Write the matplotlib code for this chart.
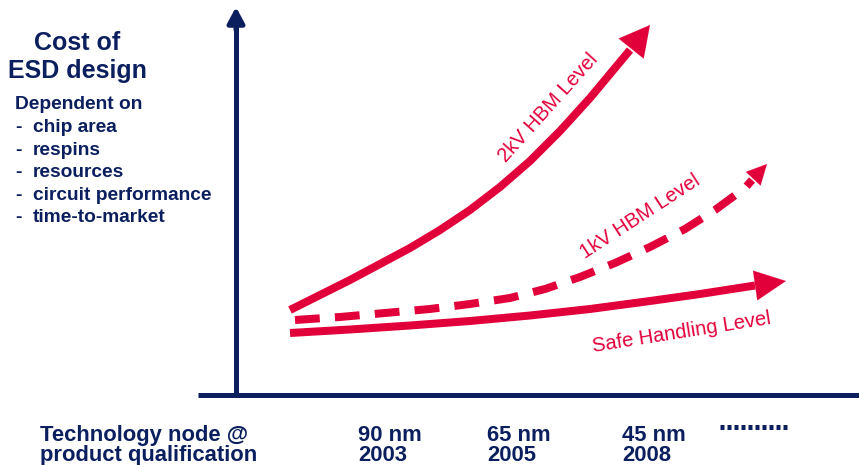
import matplotlib
matplotlib.use("Agg")
import matplotlib.pyplot as plt

# Colours
NAVY = "#0b1f5e"
RED = "#e2003a"

# Curves (slide pixel coordinates, y grows downwards)
x_2kv = [290, 320, 350, 380, 410, 440, 470, 500, 530, 560, 590, 610, 630]
y_2kv = [310, 295, 280, 264, 248, 230, 210, 187, 161, 131, 98, 74, 50]
tip_2kv = (650, 25)

x_1kv = [295, 340, 385, 430, 470, 510, 545, 580, 615, 650, 685, 715, 745, 752]
y_1kv = [320, 317, 313, 309, 304, 298, 289, 277, 263, 247, 229, 210, 188, 180]
tip_1kv = (767, 164)

x_safe = [290, 350, 410, 470, 530, 590, 650, 700, 755]
y_safe = [333, 329.5, 325.5, 321, 315.5, 309, 301, 294, 285.5]
tip_safe = (786, 281)

# Curve labels: text, centre, angle
curve_labels = ["2kV HBM Level", "1kV HBM Level", "Safe Handling Level"]
label_pos = [(548, 108), (640, 217), (682, 332)]
label_rot = [48, 33, 9]

# Left side text
title_lines = ["Cost of", "ESD design"]
dep_items = ["chip area", "respins", "resources", "circuit performance", "time-to-market"]

# Bottom axis labels
node_labels = ["90 nm", "65 nm", "45 nm"]
year_labels = ["2003", "2005", "2008"]
node_x = [358, 487, 622]

fig = plt.figure(figsize=(8.59, 4.65), dpi=100)
ax = fig.add_axes([0, 0, 1, 1])
ax.set_xlim(0, 859)
ax.set_ylim(465, 0)
ax.axis("off")

px = 72 / 100  # pixels -> points

# axes
ax.plot([198, 866], [395, 395], color=NAVY, lw=5 * px, solid_capstyle="butt")
ax.annotate("", xy=(866, 395), xytext=(850, 395),
            arrowprops=dict(arrowstyle=f"-|>,head_length={13*px},head_width={7*px}",
                            mutation_scale=1, color=NAVY, lw=5 * px,
                            shrinkA=0, shrinkB=0))
ax.plot([236, 236], [397, 20], color=NAVY, lw=5 * px, solid_capstyle="butt")
ax.annotate("", xy=(236, 7), xytext=(236, 30),
            arrowprops=dict(arrowstyle=f"-|>,head_length={13*px},head_width={7*px}",
                            mutation_scale=1, color=NAVY, lw=5 * px,
                            shrinkA=0, shrinkB=0))


def arrow_head(x, y, tip, hl, hw):
    ax.annotate("", xy=tip, xytext=(x[-1], y[-1]),
                arrowprops=dict(arrowstyle=f"-|>,head_length={hl*px},head_width={hw*px}",
                                mutation_scale=1, color=RED, lw=0.1,
                                shrinkA=0, shrinkB=0))


# curves
ax.plot(x_2kv, y_2kv, color=RED, lw=8 * px, solid_joinstyle="round", solid_capstyle="butt")
arrow_head(x_2kv, y_2kv, tip_2kv, 30, 16)

ax.plot(x_1kv, y_1kv, color=RED, lw=8 * px, linestyle=(0, (3.1, 1.9)),
        dash_capstyle="butt", dash_joinstyle="round")
arrow_head(x_1kv, y_1kv, tip_1kv, 20, 10)

ax.plot(x_safe, y_safe, color=RED, lw=8 * px, solid_joinstyle="round", solid_capstyle="butt")
arrow_head(x_safe, y_safe, tip_safe, 31, 15)

for txt, (lx, ly), rot in zip(curve_labels, label_pos, label_rot):
    ax.text(lx, ly, txt, color=RED, fontsize=14.5, family="Liberation Sans",
            rotation=rot, rotation_mode="anchor", ha="center", va="center")

# left text block
for i, line in enumerate(title_lines):
    ax.text(77, 50 + i * 28, line, color=NAVY, fontsize=18, fontweight="bold",
            family="Liberation Sans", ha="center", va="baseline")
ax.text(15, 109, "Dependent on", color=NAVY, fontsize=13.8, fontweight="bold",
        family="Liberation Sans", va="baseline")
for i, item in enumerate(dep_items):
    yb = 132 + i * 22.5
    ax.text(15, yb, "-", color=NAVY, fontsize=13.8, fontweight="bold",
            family="Liberation Sans", va="baseline")
    ax.text(33, yb, item, color=NAVY, fontsize=13.8, fontweight="bold",
            family="Liberation Sans", va="baseline")

# bottom text
ax.text(40, 441, "Technology node @", color=NAVY, fontsize=15.8, fontweight="bold",
        family="Liberation Sans", va="baseline")
ax.text(40, 461, "product qualification", color=NAVY, fontsize=15.8, fontweight="bold",
        family="Liberation Sans", va="baseline")
for nx, nl, yl in zip(node_x, node_labels, year_labels):
    ax.text(nx, 441, nl, color=NAVY, fontsize=15.8, fontweight="bold",
            family="Liberation Sans", va="baseline")
    ax.text(nx, 461, yl, color=NAVY, fontsize=15.8, fontweight="bold",
            family="Liberation Sans", va="baseline")
ax.plot([720, 790], [427, 427], color=NAVY, lw=5 * px, linestyle=(0, (0.8, 0.6)),
        dash_capstyle="butt")

fig.savefig("out.png", dpi=100)
